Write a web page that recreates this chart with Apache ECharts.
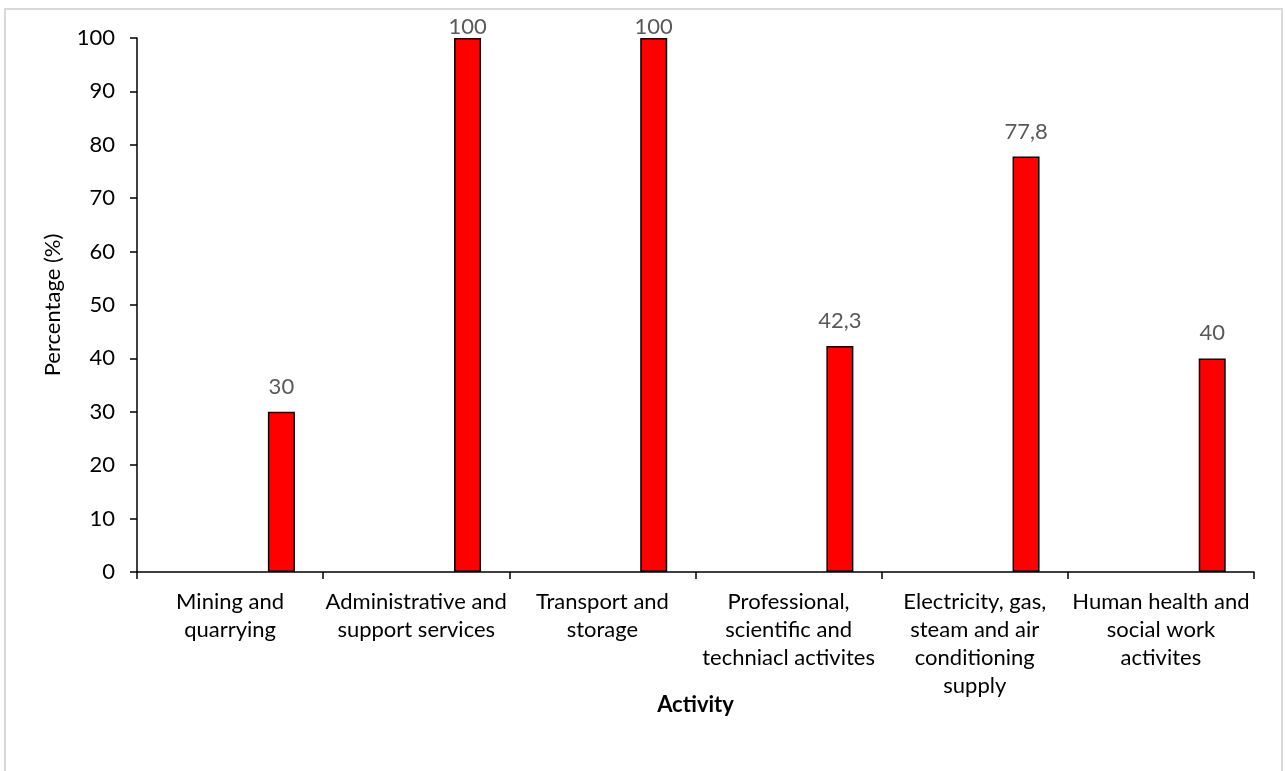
<!DOCTYPE html>
<html>
<head>
<meta charset="utf-8">
<title>Activity percentage</title>
<script src="https://cdn.jsdelivr.net/npm/echarts@6/dist/echarts.min.js"></script>
<style>
  html, body { margin: 0; padding: 0; background: #ffffff; }
  #chart { width: 1286px; height: 771px; }
</style>
</head>
<body>
<div id="chart"></div>
<script>
// Activity categories (line breaks as they wrap under the axis)
const categories = [
  'Mining and\nquarrying',
  'Administrative and\nsupport services',
  'Transport and\nstorage',
  'Professional,\nscientific and\ntechniacl activites',
  'Electricity, gas,\nsteam and air\nconditioning\nsupply',
  'Human health and\nsocial work\nactivites'
];

// Percentage per activity
const percentages = [30, 100, 100, 42.3, 77.8, 40];

// Companion series with no values (keeps the bars in the right-hand slot)
const emptySeries = [null, null, null, null, null, null];

const yTicks = { min: 0, max: 100, interval: 10 };

const FONT = 'Lato';
const SIZE = 22;

const chart = echarts.init(document.getElementById('chart'), null, { renderer: 'canvas' });

const option = {
  backgroundColor: '#ffffff',
  animation: false,
  textStyle: { fontFamily: FONT },
  grid: { left: 137, right: 32, top: 38, bottom: 199, containLabel: false },
  graphic: [{
    type: 'rect',
    z: -1,
    shape: { x: 5, y: 9, width: 1277, height: 775 },
    style: { fill: 'none', stroke: '#d9d9d9', lineWidth: 2 }
  }],
  xAxis: {
    type: 'category',
    data: categories,
    name: 'Activity',
    nameLocation: 'middle',
    nameGap: 122,
    nameMoveOverlap: false,
    nameTextStyle: { fontFamily: FONT, fontSize: SIZE, fontWeight: 'bold', color: '#000000' },
    axisLine: { lineStyle: { color: '#000000', width: 1.5 } },
    axisTick: { show: true, alignWithLabel: false, length: 7, lineStyle: { color: '#000000', width: 1.5 } },
    axisLabel: {
      interval: 0,
      fontFamily: FONT,
      fontSize: SIZE,
      color: '#000000',
      lineHeight: 28,
      margin: 16,
      align: 'center'
    }
  },
  yAxis: {
    type: 'value',
    min: yTicks.min,
    max: yTicks.max,
    interval: yTicks.interval,
    name: 'Percentage (%)',
    nameLocation: 'middle',
    nameGap: 73,
    nameMoveOverlap: false,
    nameTextStyle: { fontFamily: FONT, fontSize: SIZE, color: '#000000' },
    splitLine: { show: false },
    axisLine: { show: true, lineStyle: { color: '#000000', width: 1.5 } },
    axisTick: { show: true, length: 7, lineStyle: { color: '#000000', width: 1.5 } },
    axisLabel: { fontFamily: FONT, fontSize: SIZE, color: '#000000', margin: 22 }
  },
  series: [
    {
      type: 'bar',
      data: emptySeries,
      barWidth: 27,
      barGap: '280%',
      silent: true
    },
    {
      type: 'bar',
      data: percentages.map(v => ({
        value: v,
        label: v >= yTicks.max ? { distance: 0 } : undefined
      })),
      barWidth: 27,
      barGap: '280%',
      itemStyle: { color: '#ff0000', borderColor: '#000000', borderWidth: 1.5 },
      label: {
        show: true,
        position: 'top',
        distance: 14,
        fontFamily: FONT,
        fontSize: SIZE,
        color: '#595959',
        formatter: p => String(p.value).replace('.', ',')
      }
    }
  ]
};

chart.setOption(option);
</script>
</body>
</html>
